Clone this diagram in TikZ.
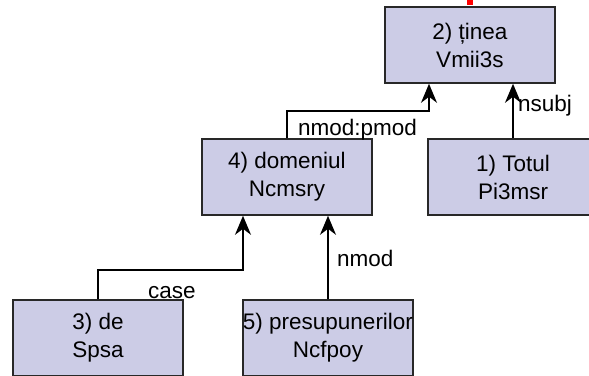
\documentclass[tikz,border=0pt]{standalone}
\usepackage{fontspec}
\setmainfont{Liberation Sans}
\usetikzlibrary{arrows.meta}
\definecolor{boxfill}{RGB}{204,204,230}
\definecolor{boxline}{RGB}{40,40,40}
\tikzset{
  word/.style={draw=boxline, line width=1.6pt, fill=boxfill, minimum width=170pt, minimum height=76pt,
    inner sep=0pt, align=center, font=\fontsize{22.5}{28}\selectfont},
  dep/.style={draw=black, line width=1.4pt, -{Stealth[length=19pt,width=16pt,inset=6pt]}},
  rel/.style={anchor=west, inner sep=0pt, font=\fontsize{22.5}{27}\selectfont}
}
\begin{document}
\begin{tikzpicture}[x=1pt,y=1pt]
\useasboundingbox (0,0) rectangle (589,375);
\clip (0,0) rectangle (589,375);
\node[word] (n2) at (470,330) {2) ținea\\Vmii3s};
\node[word] (n1) at (513,198) {1) Totul\\Pi3msr};
\node[word] (n4) at (287,198) {4) domeniul\\Ncmsry};
\node[word] (n3) at (98,37) {3) de\\Spsa};
\node[word] (n5) at (328,37) {5) presupunerilor\\Ncfpoy};
\fill[red] (467,370) rectangle (473,375);
\draw[dep] (n1.north) -- (n1.north |- n2.south);
\draw[dep] (n4.north) -- ++(0,27) -| ([xshift=-41pt]n2.south);
\draw[dep] (n3.north) -- ++(0,29) -| ([xshift=-44pt]n4.south);
\draw[dep] (n5.north) -- (n5.north |- n4.south);
\node[rel] (l1) at (518,269) {nsubj};
\node[rel] (l2) at (298,245) {nmod:pmod};
\node[rel] (l3) at (148,82) {case};
\node[rel] (l4) at (337,117) {nmod};
\end{tikzpicture}
\end{document}
